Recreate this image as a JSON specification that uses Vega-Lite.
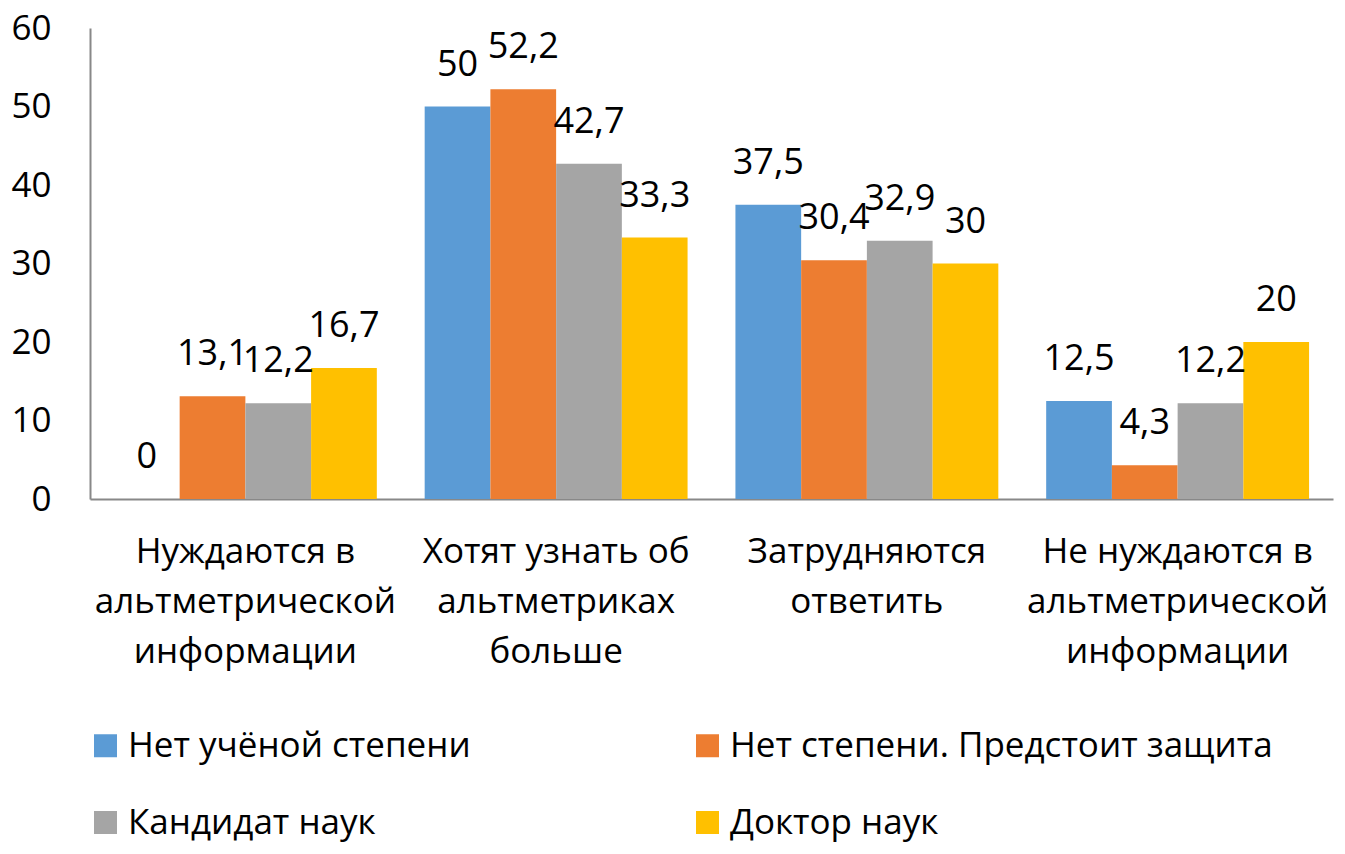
{
  "$schema": "https://vega.github.io/schema/vega-lite/v6.json",
  "autosize": "none",
  "padding": {"left": 90, "top": 28, "right": 12, "bottom": 355},
  "width": 1243,
  "height": 471,
  "data": {
    "values": [
      {"category": "Нуждаются в альтметрической информации", "group": "Нет учёной степени", "value": 0},
      {"category": "Нуждаются в альтметрической информации", "group": "Нет степени. Предстоит защита", "value": 13.1},
      {"category": "Нуждаются в альтметрической информации", "group": "Кандидат наук", "value": 12.2},
      {"category": "Нуждаются в альтметрической информации", "group": "Доктор наук", "value": 16.7},
      {"category": "Хотят узнать об альтметриках больше", "group": "Нет учёной степени", "value": 50},
      {"category": "Хотят узнать об альтметриках больше", "group": "Нет степени. Предстоит защита", "value": 52.2},
      {"category": "Хотят узнать об альтметриках больше", "group": "Кандидат наук", "value": 42.7},
      {"category": "Хотят узнать об альтметриках больше", "group": "Доктор наук", "value": 33.3},
      {"category": "Затрудняются ответить", "group": "Нет учёной степени", "value": 37.5},
      {"category": "Затрудняются ответить", "group": "Нет степени. Предстоит защита", "value": 30.4},
      {"category": "Затрудняются ответить", "group": "Кандидат наук", "value": 32.9},
      {"category": "Затрудняются ответить", "group": "Доктор наук", "value": 30},
      {"category": "Не нуждаются в альтметрической информации", "group": "Нет учёной степени", "value": 12.5},
      {"category": "Не нуждаются в альтметрической информации", "group": "Нет степени. Предстоит защита", "value": 4.3},
      {"category": "Не нуждаются в альтметрической информации", "group": "Кандидат наук", "value": 12.2},
      {"category": "Не нуждаются в альтметрической информации", "group": "Доктор наук", "value": 20}
    ]
  },
  "encoding": {
    "x": {
      "field": "category",
      "type": "nominal",
      "sort": null,
      "scale": {"paddingInner": 0.154, "paddingOuter": 0.077},
      "axis": {
        "title": null,
        "labelAngle": 0,
        "ticks": false,
        "labelFontSize": 35,
        "labelPadding": 35,
        "labelLineHeight": 50,
        "labelLimit": 400,
        "labelExpr": "datum.value == 'Нуждаются в альтметрической информации' ? ['Нуждаются в', 'альтметрической', 'информации'] : datum.value == 'Хотят узнать об альтметриках больше' ? ['Хотят узнать об', 'альтметриках', 'больше'] : datum.value == 'Затрудняются ответить' ? ['Затрудняются', 'ответить'] : ['Не нуждаются в', 'альтметрической', 'информации']"
      }
    },
    "xOffset": {
      "field": "group",
      "type": "nominal",
      "sort": ["Нет учёной степени", "Нет степени. Предстоит защита", "Кандидат наук", "Доктор наук"],
      "scale": {"paddingInner": 0, "paddingOuter": 0}
    },
    "y": {
      "field": "value",
      "type": "quantitative",
      "scale": {"domain": [0, 60]},
      "axis": {
        "title": null,
        "values": [0, 10, 20, 30, 40, 50, 60],
        "grid": false,
        "ticks": false,
        "labelFontSize": 35,
        "labelPadding": 39
      }
    }
  },
  "layer": [
    {
      "mark": {"type": "bar"},
      "encoding": {
        "color": {
          "field": "group",
          "type": "nominal",
          "sort": ["Нет учёной степени", "Нет степени. Предстоит защита", "Кандидат наук", "Доктор наук"],
          "scale": {"range": ["#5B9BD5", "#ED7D31", "#A5A5A5", "#FFC000"]},
          "legend": {
            "title": null,
            "orient": "none",
            "legendX": -2,
            "legendY": 700,
            "columns": 2,
            "direction": "horizontal",
            "padding": 0,
            "rowPadding": 41,
            "columnPadding": 219,
            "symbolType": "square",
            "symbolSize": 529,
            "symbolStrokeWidth": 0,
            "symbolOpacity": 1,
            "labelFontSize": 35,
            "labelOffset": 5,
            "labelLimit": 600
          }
        }
      }
    },
    {
      "mark": {"type": "text", "baseline": "alphabetic", "dy": -31, "fontSize": 36},
      "encoding": {
        "text": {"field": "value", "type": "quantitative", "format": ".1~f"}
      }
    }
  ],
  "config": {
    "font": "Open Sans",
    "view": {"stroke": null},
    "axis": {
      "domainColor": "#888888",
      "domainWidth": 2,
      "labelColor": "#000000",
      "labelFont": "Open Sans"
    },
    "legend": {"labelColor": "#000000", "labelFont": "Open Sans"},
    "text": {"color": "#000000"},
    "locale": {
      "number": {"decimal": ",", "thousands": " ", "grouping": [3], "currency": ["", ""]}
    }
  }
}
